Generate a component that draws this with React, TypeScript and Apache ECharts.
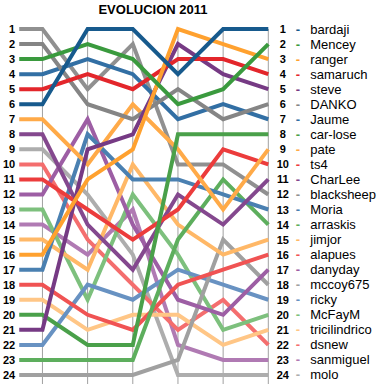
import React, { useEffect, useRef } from "react";
import * as echarts from "echarts";

const TITLE = "EVOLUCION 2011";
const ROUNDS = ["J1", "J2", "J3", "J4", "J5", "J6"];
const NAMES = [
  "bardaji", "Mencey", "ranger", "samaruch", "steve", "DANKO",
  "Jaume", "car-lose", "pate", "ts4", "CharLee", "blacksheep",
  "Moria", "arraskis", "jimjor", "alapues", "danyday", "mccoy675",
  "ricky", "McFayM", "tricilindrico", "dsnew", "sanmiguel", "molo",
];
const COLORS = [
  "#175a8d", "#3a9a3e", "#ffa12f", "#e3262b", "#763a84", "#858585",
  "#326fa4", "#4aa04a", "#ffaa48", "#ec3c3c", "#84488e", "#909090",
  "#4a80b1", "#5dae5d", "#ffb867", "#f05353", "#9d5ea4", "#a0a0a0",
  "#6892c2", "#7dc07d", "#ffc686", "#f46e6e", "#b07ab3", "#adadad",
];
// rank of each player after every round
const bardaji = [6, 1, 1, 4, 1, 1];
const Mencey = [3, 2, 3, 6, 5, 2];
const ranger = [16, 11, 9, 1, 2, 3];
const samaruch = [5, 4, 5, 3, 3, 4];
const steve = [21, 9, 8, 2, 4, 5];
const DANKO = [2, 6, 7, 5, 7, 6];
const Jaume = [4, 3, 4, 7, 6, 7];
const carlose = [20, 22, 22, 8, 8, 8];
const pate = [7, 10, 6, 9, 13, 9];
const ts4 = [11, 13, 15, 13, 9, 10];
const CharLee = [8, 14, 17, 12, 14, 11];
const blacksheep = [1, 5, 2, 10, 10, 12];
const Moria = [17, 8, 11, 11, 12, 13];
const arraskis = [23, 23, 23, 15, 11, 14];
const jimjor = [15, 17, 10, 14, 16, 15];
const alapues = [18, 20, 21, 18, 17, 16];
const danyday = [12, 7, 14, 19, 20, 17];
const mccoy675 = [24, 24, 24, 23, 15, 18];
const ricky = [22, 18, 19, 17, 18, 19];
const McFayM = [13, 19, 12, 16, 21, 20];
const tricilindrico = [19, 21, 20, 20, 22, 21];
const dsnew = [10, 15, 18, 21, 19, 22];
const sanmiguel = [14, 16, 13, 22, 23, 23];
const molo = [9, 12, 16, 24, 24, 24];

const RANKS = [
  bardaji, Mencey, ranger, samaruch, steve, DANKO, Jaume, carlose, pate,
  ts4, CharLee, blacksheep, Moria, arraskis, jimjor, alapues, danyday,
  mccoy675, ricky, McFayM, tricilindrico, dsnew, sanmiguel, molo,
];

const STUB = -0.514; // flat lead-in before first round
const Y_MAX = 24.6;
const FONT = "Liberation Sans";

export default function App() {
  const ref = useRef<HTMLDivElement>(null);
  useEffect(() => {
    if (!ref.current) return;
    const chart = echarts.init(ref.current, null, { renderer: "svg" });
    const n = NAMES.length;

    const gridSeries = ROUNDS.map((_, i) => ({
      type: "line",
      data: [[i, 1], [i, Y_MAX]],
      symbol: "none",
      silent: true,
      z: 1,
      clip: false,
      lineStyle: { color: "#a0a0a0", width: 1 },
    }));

    const playerSeries = NAMES.map((name, idx) => ({
      type: "line",
      name,
      data: [[STUB, RANKS[idx][0]], ...RANKS[idx].map((r, i) => [i, r])],
      symbol: "none",
      clip: false,
      z: 2 + (n - idx),
      lineStyle: { color: COLORS[idx], width: 4, cap: "butt", join: "miter" },
    }))
      .reverse();

    const rich: Record<string, any> = {
      n: { fontFamily: FONT, fontWeight: "bold", fontSize: 11, width: 17, align: "right", color: "#000" },
      t: { fontFamily: FONT, fontSize: 13, color: "#000", padding: [0, 0, 0, 6] },
    };
    COLORS.forEach((c, i) => {
      rich["d" + i] = { fontFamily: FONT, fontWeight: "bold", fontSize: 13, color: c, width: 13, align: "center" };
    });

    const isRank = (v: number) => Number.isInteger(v) && v >= 1 && v <= n;

    chart.setOption({
      animation: false,
      grid: { left: 16.5, right: 118.7, top: 29, bottom: 1, containLabel: false },
      xAxis: {
        type: "value",
        min: STUB,
        max: ROUNDS.length - 1,
        show: false,
      },
      yAxis: [
        {
          type: "value",
          inverse: true,
          min: 1,
          max: Y_MAX,
          interval: 1,
          position: "left",
          axisLine: { show: false },
          axisTick: { show: false },
          splitLine: { show: false },
          axisLabel: {
            margin: 4,
            fontFamily: FONT,
            fontWeight: "bold",
            fontSize: 11,
            color: "#000",
            formatter: (v: number) => (isRank(v) ? String(v) : ""),
          },
        },
        {
          type: "value",
          inverse: true,
          min: 1,
          max: Y_MAX,
          interval: 1,
          position: "right",
          axisLine: { show: false },
          axisTick: { show: false },
          splitLine: { show: false },
          axisLabel: {
            margin: 6,
            formatter: (v: number) =>
              isRank(v) ? `{n|${v}}{d${v - 1}|-}{t|${NAMES[v - 1]}}` : "",
            rich,
          },
        },
      ],
      graphic: [
        {
          type: "text",
          x: 153,
          y: 3,
          style: {
            text: TITLE,
            fontFamily: FONT,
            fontWeight: "bold",
            fontSize: 13,
            fill: "#000",
            align: "center",
            verticalAlign: "top",
          },
        },
      ],
      series: [...gridSeries, ...playerSeries],
    });
    return () => chart.dispose();
  }, []);
  return (
    <div
      ref={ref}
      style={{ position: "fixed", left: 0, top: 0, width: 387, height: 385, background: "#fff" }}
    />
  );
}
